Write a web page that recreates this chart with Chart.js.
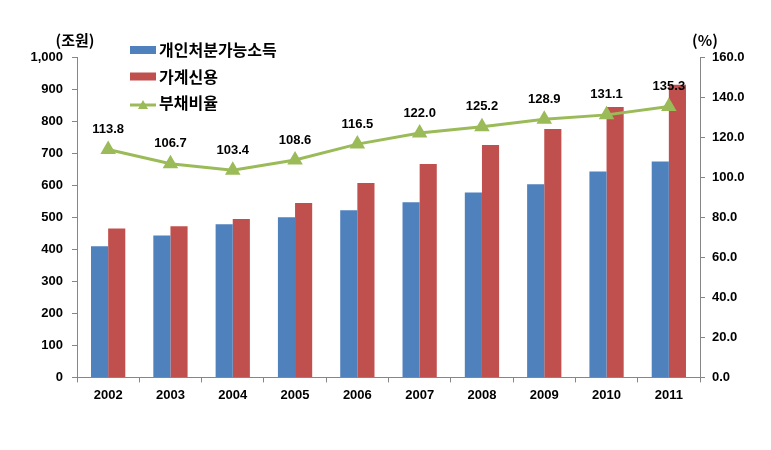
<!DOCTYPE html>
<html>
<head>
<meta charset="utf-8">
<script src="https://cdn.jsdelivr.net/npm/chart.js@4.4.1/dist/chart.umd.min.js"></script>
<style>
  html, body { margin: 0; padding: 0; background: #fff; }
  #wrap { position: relative; width: 771px; height: 450px; }
</style>
</head>
<body>
<div id="wrap"><canvas id="c" width="771" height="450"></canvas></div>
<script>
// ── data ──────────────────────────────────────────────────────────────────────
const years = ['2002', '2003', '2004', '2005', '2006', '2007', '2008', '2009', '2010', '2011'];
const income = [409, 443, 478, 500, 522, 547, 577, 603, 643, 674];   // 개인처분가능소득 (조원)
const credit = [465, 472, 494, 544, 607, 666, 725, 775, 844, 913];   // 가계신용 (조원)
const ratio = [113.8, 106.7, 103.4, 108.6, 116.5, 122.0, 125.2, 128.9, 131.1, 135.3]; // 부채비율 (%)

const BLUE = '#4F81BD', RED = '#C0504D', GREEN = '#9BBB59';
const FONT = '"Liberation Sans", Arial, sans-serif';
const KFONT = '"Noto Sans CJK KR", "Noto Sans", sans-serif';

// value labels over the ratio line + unit captions + legend
const overlay = {
    id: 'overlay',
    afterDatasetsDraw(chart) {
        const ctx = chart.ctx;
        const meta = chart.getDatasetMeta(2);
        ctx.save();
        ctx.fillStyle = '#000';
        ctx.font = 'bold 13px ' + FONT;
        ctx.textAlign = 'center';
        ctx.textBaseline = 'middle';
        meta.data.forEach((pt, i) => {
            ctx.fillText(ratio[i].toFixed(1), pt.x, pt.y - 20);
        });

        // units (sit on top of each axis line)
        ctx.font = 'bold 15px ' + KFONT;
        ctx.fillText('(조원)', chart.scales.y.right - 2, 40);
        ctx.fillText('(%)', chart.scales.y1.left + 5, 40);

        // legend
        const items = [
            { label: '개인처분가능소득', color: BLUE, kind: 'box' },
            { label: '가계신용', color: RED, kind: 'box' },
            { label: '부채비율', color: GREEN, kind: 'line' }
        ];
        ctx.textAlign = 'left';
        ctx.font = 'bold 16px ' + KFONT;
        items.forEach((it, i) => {
            const y = 50 + i * 26.5;
            if (it.kind === 'box') {
                ctx.fillStyle = it.color;
                ctx.fillRect(130, y - 4, 26, 8);
            } else {
                ctx.strokeStyle = it.color;
                ctx.lineWidth = 3;
                ctx.beginPath();
                ctx.moveTo(130, y + 2);
                ctx.lineTo(156, y + 2);
                ctx.stroke();
                ctx.fillStyle = it.color;
                ctx.beginPath();
                ctx.moveTo(143, y - 3);
                ctx.lineTo(148, y + 6);
                ctx.lineTo(138, y + 6);
                ctx.closePath();
                ctx.fill();
            }
            ctx.fillStyle = '#000';
            ctx.fillText(it.label, 159, y);
        });
        ctx.restore();
    }
};

new Chart(document.getElementById('c'), {
    type: 'bar',
    data: {
        labels: years,
        datasets: [
            { label: '개인처분가능소득', data: income, backgroundColor: BLUE, yAxisID: 'y', order: 2 },
            { label: '가계신용', data: credit, backgroundColor: RED, yAxisID: 'y', order: 2 },
            {
                type: 'line', label: '부채비율', data: ratio, yAxisID: 'y1', order: 1,
                borderColor: GREEN, backgroundColor: GREEN, borderWidth: 3,
                pointStyle: 'triangle', pointRadius: 6, pointBackgroundColor: GREEN,
                pointBorderColor: GREEN, tension: 0
            }
        ]
    },
    options: {
        responsive: false,
        animation: false,
        layout: { padding: { top: 57, bottom: 42, left: 0, right: 0 } },
        datasets: { bar: { categoryPercentage: 0.55, barPercentage: 1.0 } },
        plugins: { legend: { display: false }, tooltip: { enabled: false } },
        scales: {
            x: {
                offset: true,
                border: { color: '#868686' },
                grid: { drawOnChartArea: false, drawTicks: true, tickLength: 5, color: '#868686', offset: true },
                ticks: { color: '#000', font: { family: FONT, size: 13, weight: 'bold' }, padding: 5, maxRotation: 0 }
            },
            y: {
                position: 'left', min: 0, max: 1000,
                afterFit: s => { s.width = 77; },
                border: { color: '#868686' },
                grid: { drawOnChartArea: false, drawTicks: true, tickLength: 5, color: '#868686' },
                ticks: {
                    stepSize: 100, color: '#000', padding: 9,
                    font: { family: FONT, size: 13, weight: 'bold' },
                    callback: v => v.toLocaleString('en-US')
                }
            },
            y1: {
                position: 'right', min: 0, max: 160,
                afterFit: s => { s.width = 71; },
                border: { color: '#868686' },
                grid: { drawOnChartArea: false, drawTicks: true, tickLength: 5, color: '#868686' },
                ticks: {
                    stepSize: 20, color: '#000', padding: 7,
                    font: { family: FONT, size: 13, weight: 'bold' },
                    callback: v => v.toFixed(1)
                }
            }
        }
    },
    plugins: [overlay]
});
</script>
</body>
</html>
